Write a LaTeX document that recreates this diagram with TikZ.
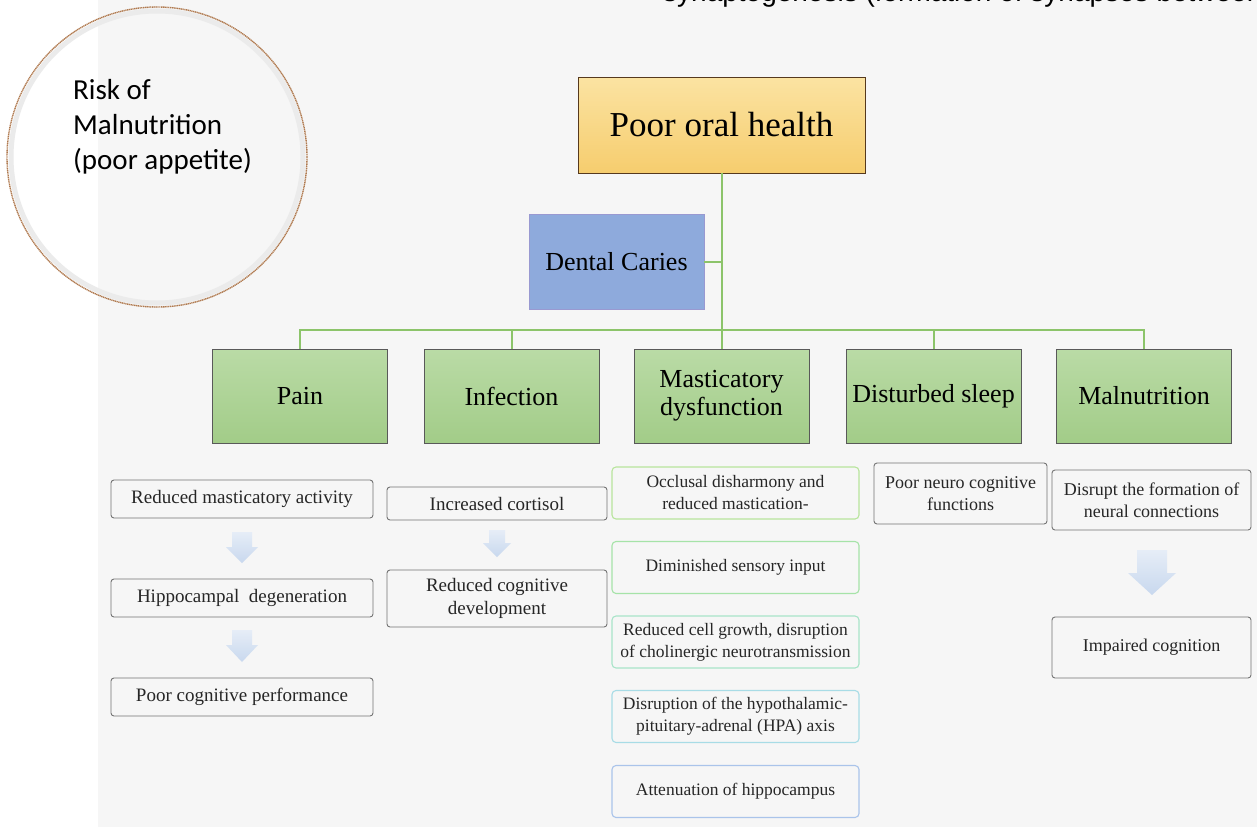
\documentclass[tikz,border=0pt]{standalone}
\usepackage{fontspec}
\setmainfont{Liberation Serif}
\newfontfamily\calfont{Carlito}
\newfontfamily\arialfont{Liberation Sans}
\usetikzlibrary{calc}

\definecolor{pagegray}{HTML}{F6F6F6}
\definecolor{linkgreen}{HTML}{8CC46A}
\definecolor{hdrtop}{HTML}{BADBA6}
\definecolor{hdrbot}{HTML}{A2CC88}
\definecolor{goldtop}{HTML}{FBE3A2}
\definecolor{goldbot}{HTML}{F6CD6E}
\definecolor{cariesblue}{HTML}{8EAADC}
\definecolor{arrowtop}{HTML}{E6EDF7}
\definecolor{arrowbot}{HTML}{C8D8EE}
\definecolor{ringbrown}{HTML}{B07A50}
\definecolor{edgeA}{HTML}{B8E59C}
\definecolor{edgeB}{HTML}{A6E3A8}
\definecolor{edgeC}{HTML}{A8E4C8}
\definecolor{edgeD}{HTML}{A8DCE6}
\definecolor{edgeE}{HTML}{AAC4EA}

\newcommand\fsz[2]{\fontsize{#1}{#2}\selectfont}

\tikzset{
  conn/.style={draw=linkgreen, line width=2},
  headbox/.style={draw=black!65, line width=0.8, top color=hdrtop, bottom color=hdrbot,
    minimum width=175, minimum height=94, inner sep=0, align=center,
    font=\fsz{26}{28}},
  subbox/.style={draw=black!55, line width=0.9, rounded corners=3, fill=pagegray,
    inner sep=0, align=center, text=black!85, font=\fsz{19}{23}},
  mastbox/.style={line width=1.1, rounded corners=4, fill=pagegray,
    minimum width=247, minimum height=52, inner sep=0, align=center,
    text=black!85, font=\fsz{17.5}{22}},
  arrowfill/.style={top color=arrowtop, bottom color=arrowbot, draw=none}
}

\begin{document}
\begin{tikzpicture}[x=1pt,y=-1pt]
\useasboundingbox (0,0) rectangle (1257,827);
\clip (0,0) rectangle (1257,827);

% page background
\fill[white] (0,0) rectangle (1257,827);
\fill[pagegray] (98,0) rectangle (1257,827);

% running text at the top edge (continues above the page)
\node[anchor=base west, inner sep=0, font=\arialfont\fsz{28}{32}] (runtext) at (663,1.5)
  {synaptogenesis (formation of synapses between neurons)};

% callout circle
\draw[black!8, line width=5] (157,157) circle (146);
\draw[ringbrown, line width=1.4, dash pattern=on 1.2pt off 0.6pt] (157,157) circle (150);
\node[anchor=north west, inner sep=0, align=left, font=\calfont\fsz{29}{35}] (risk) at (73,79)
  {Risk of\\Malnutrition\\(poor appetite)};

% top of the hierarchy
\node[draw=black!55!brown, line width=0.9, top color=goldtop, bottom color=goldbot,
  minimum width=287, minimum height=96, inner sep=0, font=\fsz{35}{38}]
  (poh) at (721.5,125) {Poor oral health};
\node[draw=black!45!blue!40, line width=0.9, fill=cariesblue,
  minimum width=175, minimum height=95, inner sep=0, font=\fsz{26}{28}]
  (dc) at (616.5,261.5) {Dental Caries};

% second level
\node[headbox] (pain) at (300,396) {Pain};
\node[headbox] (inf)  at (511.5,396) {Infection};
\node[headbox] (mast) at (721.5,396) {Masticatory\\dysfunction};
\node[headbox] (sleep) at (933.5,396) {Disturbed sleep};
\node[headbox] (mal) at (1144,396) {Malnutrition};

% tree connectors
\coordinate (busy) at (0,330);
\draw[conn] (poh.south) -- (mast.north);
\draw[conn] (dc.east) -- (dc.east -| poh.south);
\draw[conn] (pain.north) -- (pain.north |- busy) -- (mal.north |- busy) -- (mal.north);
\draw[conn] (inf.north) -- (inf.north |- busy);
\draw[conn] (sleep.north) -- (sleep.north |- busy);

% pain branch
\node[subbox, minimum width=262, minimum height=38] (rma) at (242,499) {Reduced masticatory activity};
\node[subbox, minimum width=262, minimum height=38] (hd)  at (242,598) {Hippocampal\ \ degeneration};
\node[subbox, minimum width=262, minimum height=38] (pcp) at (242,697) {Poor cognitive performance};
\shade[arrowfill] (232,532) -- (252,532) -- (252,547) -- (258,547) -- (242,563) -- (226,547) -- (232,547) -- cycle;
\shade[arrowfill] (232,630) -- (252,630) -- (252,645) -- (258,645) -- (242,662) -- (226,645) -- (232,645) -- cycle;

% infection branch
\node[subbox, minimum width=220, minimum height=33] (ic) at (497,503.5) {Increased cortisol};
\node[subbox, minimum width=220, minimum height=57] (rcd) at (497,598.5) {Reduced cognitive\\development};
\shade[arrowfill] (489,530) -- (505,530) -- (505,543) -- (511,543) -- (497,557) -- (483,543) -- (489,543) -- cycle;

% masticatory branch
\node[mastbox, draw=edgeA] (m1) at (735.5,493) {Occlusal disharmony and\\reduced mastication-};
\node[mastbox, draw=edgeB] (m2) at (735.5,567.5) {Diminished sensory input};
\node[mastbox, draw=edgeC] (m3) at (735.5,642) {Reduced cell growth, disruption\\of cholinergic neurotransmission};
\node[mastbox, draw=edgeD] (m4) at (735.5,716.5) {Disruption of the hypothalamic-\\pituitary-adrenal (HPA) axis};
\node[mastbox, draw=edgeE] (m5) at (735.5,791.5) {Attenuation of hippocampus};

% disturbed sleep branch
\node[subbox, minimum width=173, minimum height=61, font=\fsz{18}{22}] (pnc) at (960.5,493.5) {Poor neuro cognitive\\functions};

% malnutrition branch
\node[subbox, minimum width=199, minimum height=60, font=\fsz{18}{22}] (dfn) at (1151.5,500) {Disrupt the formation of\\neural connections};
\node[subbox, minimum width=199, minimum height=61, font=\fsz{18}{22}] (imp) at (1151.5,647.5) {Impaired cognition};
\shade[arrowfill] (1137,550) -- (1167,550) -- (1167,573) -- (1176,573) -- (1152,595) -- (1128,573) -- (1137,573) -- cycle;

\end{tikzpicture}
\end{document}
